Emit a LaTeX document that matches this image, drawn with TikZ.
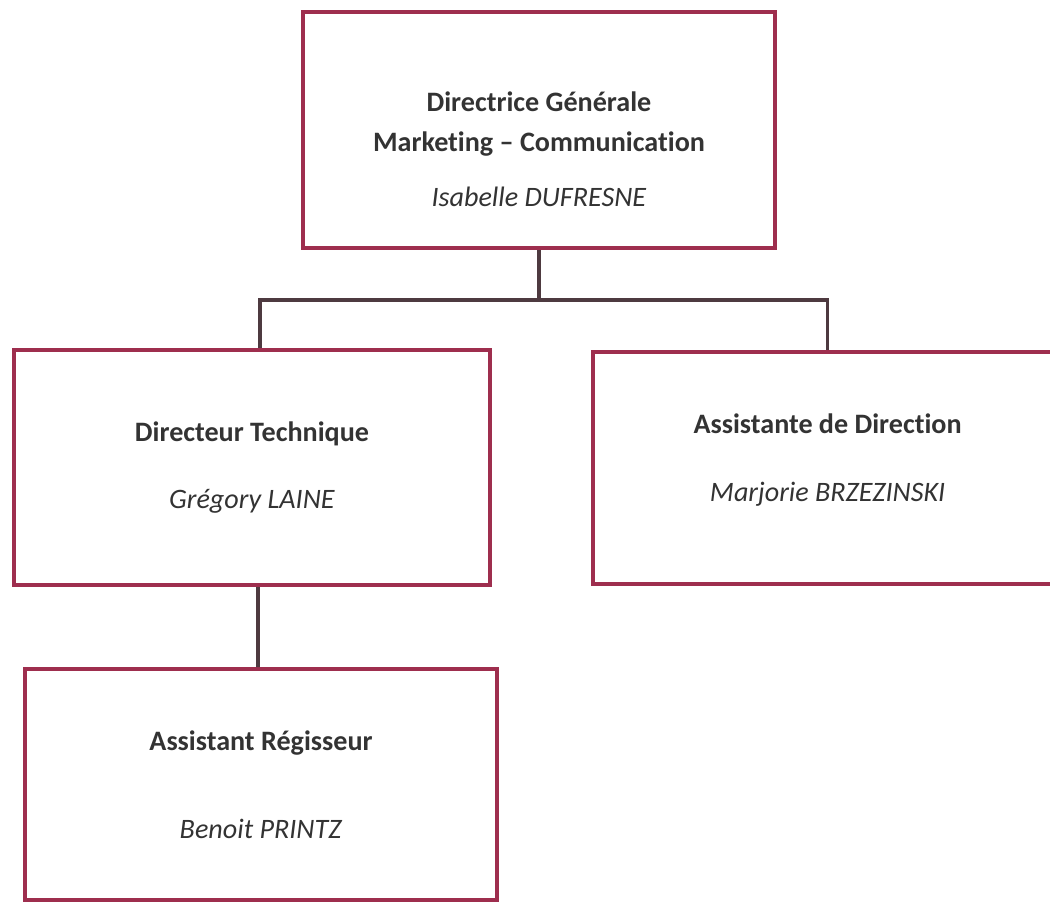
\documentclass[tikz,border=0pt]{standalone}
\usepackage{fontspec}
\setmainfont[RawFeature={-liga;-clig;-calt;-dlig}]{Carlito}
\definecolor{boxred}{HTML}{9E2E4E}
\definecolor{linegray}{HTML}{4E3A40}
\definecolor{txtgray}{HTML}{333333}
\begin{document}
\begin{tikzpicture}[node distance=8cm]
                \tikzset{ block/.style={rectangle,draw=boxred,line width=2.8pt,fill=white,align=center,text=txtgray,font=\fontsize{20}{24}\selectfont},
                        line/.style={draw=linegray, line width=2.5pt}}
                \useasboundingbox (0,0) rectangle (26.25,-22.6);
                \node[block, minimum width=11.8cm, minimum height=5.9cm] (dg) at (13.475,-3.25) {\rule{0pt}{1.45cm}\textbf{Directrice Générale}\\[0.15cm]\textbf{Marketing – Communication}\\[0.53cm]\textit{Isabelle DUFRESNE}};
                \node[block, minimum width=11.9cm, minimum height=5.875cm, below of = dg, xshift=-7.175cm, yshift=-0.44cm] (dt) {\textbf{Directeur Technique}\\[0.85cm]\textit{Grégory LAINE}};
                \node[block, minimum width=11.75cm, minimum height=5.8cm, right of = dt, xshift=6.39cm] (ad) {\textbf{Assistante de Direction}\\[0.85cm]\textit{Marjorie BRZEZINSKI}\rule[-0.5cm]{0pt}{0.5cm}};
                \node[block, minimum width=11.8cm, minimum height=5.775cm, below of = dt, xshift=0.225cm, yshift=0.075cm] (ar) {\textbf{Assistant Régisseur}\\[1.35cm]\textit{Benoit PRINTZ}};

                % Liaisons
                \draw[line] (dg.south) -- ++(0,-1.25) -| (ad.north);
                \draw[line] (dg.south) ++(0,-1.25) -| ([xshift=0.2cm]dt.north);
                \draw[line] ([xshift=0.15cm]dt.south) -- ([xshift=-0.075cm]ar.north);
            \end{tikzpicture}
\end{document}
